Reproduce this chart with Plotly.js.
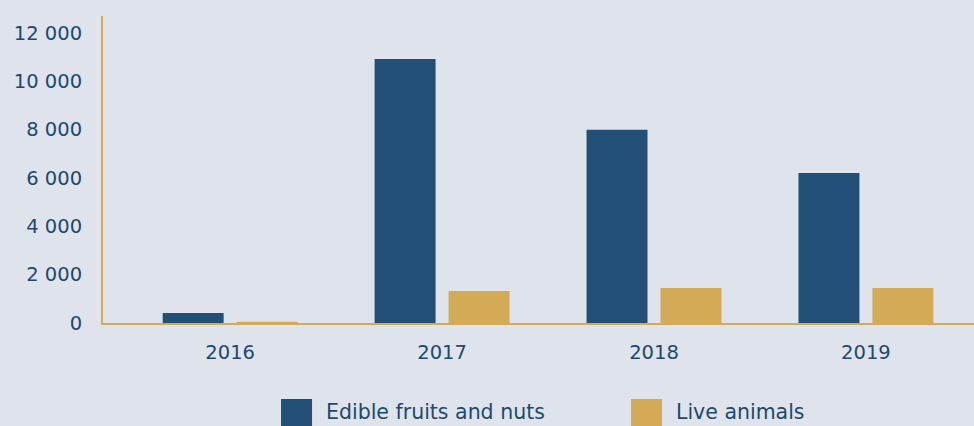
<!DOCTYPE html>
<html>
<head>
<meta charset="utf-8">
<script src="https://cdn.plot.ly/plotly-3.0.1.min.js"></script>
<style>html,body{margin:0;padding:0;background:#dfe3ec;}#chart{width:974px;height:426px;}</style>
</head>
<body>
<div id="chart"></div>
<script>
const years = ['2016', '2017', '2018', '2019'];
const seriesNames = ['Edible fruits and nuts', 'Live animals'];
const edibleFruits = [410, 10920, 7990, 6210];
const liveAnimals = [50, 1320, 1450, 1450];
const yTicks = [0, 2000, 4000, 6000, 8000, 10000, 12000];

const colors = ['#224f75', '#d3aa55'];
const textColor = '#1b4a6e';
const font = 'DejaVu Sans, sans-serif';

const traces = [edibleFruits, liveAnimals].map((vals, i) => ({
  type: 'bar', x: years, y: vals, name: seriesNames[i],
  marker: {color: colors[i]}, hoverinfo: 'x+y+name'
}));

// custom legend (large squares)
const legX = [0.2044, 0.6062];
const shapes = [], annotations = [];
seriesNames.forEach((n, i) => {
  shapes.push({type: 'rect', xref: 'paper', yref: 'paper', x0: legX[i], x1: legX[i] + 0.0356,
    y0: -0.2476, y1: -0.36, fillcolor: colors[i], line: {width: 0}, layer: 'above'});
  annotations.push({xref: 'paper', yref: 'paper', x: legX[i] + 0.051, y: 0, yshift: -102, xanchor: 'left', yanchor: 'bottom',
    text: n, showarrow: false, borderpad: 0, font: {family: font, size: 20.5, color: textColor}});
});

const layout = {
  width: 974, height: 426,
  paper_bgcolor: '#dfe3ec', plot_bgcolor: '#dfe3ec',
  margin: {l: 103, r: 0, t: 16, b: 103},
  separators: '. ',
  showlegend: false,
  barmode: 'group', bargap: 0.302, bargroupgap: 0.176,
  font: {family: font, size: 19.5, color: textColor},
  xaxis: {
    type: 'category', range: [-0.6, 3.51],
    showline: true, linecolor: '#d3aa55', linewidth: 2,
    showgrid: false, zeroline: false, ticks: '', ticklabelstandoff: 11,
    tickfont: {family: font, size: 19.5, color: textColor}
  },
  yaxis: {
    range: [0, 12700], tickvals: yTicks, tickformat: ',',
    showline: true, linecolor: '#d3aa55', linewidth: 2,
    showgrid: false, zeroline: false, ticks: '', ticklabelstandoff: 15,
    tickfont: {family: font, size: 19.5, color: textColor}
  },
  shapes: shapes, annotations: annotations
};

Plotly.newPlot('chart', traces, layout, {displayModeBar: false, staticPlot: true});
</script>
</body>
</html>
